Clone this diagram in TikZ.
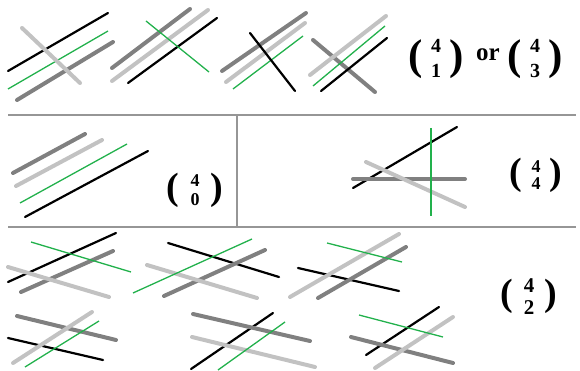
\documentclass[tikz,border=0pt]{standalone}
\usepackage{fontspec}
\setmainfont{Liberation Serif}
\definecolor{grn}{RGB}{34,177,76}
\definecolor{dgray}{RGB}{128,128,128}
\definecolor{lgray}{RGB}{194,194,194}
\definecolor{sepgray}{RGB}{150,150,150}
% #1 paren size, #2 digit size, #3 row distance, #4 gap, #5 raise, #6 top, #7 bottom
\newcommand\mybinom[7]{{\fontsize{#1}{#1}\selectfont(}\hspace{#4pt}\raisebox{#5pt}{\fontsize{#2}{#3}\selectfont\begin{tabular}[b]{@{}c@{}}#6\\#7\end{tabular}}\hspace{#4pt}{\fontsize{#1}{#1}\selectfont)}}
\begin{document}
\begin{tikzpicture}[x=1pt,y=-1pt,
  blk/.style={black,line width=2.2pt,line cap=round},
  gl/.style={grn,line width=1.3pt},
  dg/.style={dgray,line width=4pt,line cap=round},
  lg/.style={lgray,line width=4pt,line cap=round},
  sep/.style={sepgray,line width=1.4pt},
  bin/.style={inner sep=0pt,anchor=base,font=\bfseries},
  ortext/.style={inner sep=0pt,font=\fontsize{25}{25}\selectfont\bfseries}]
\useasboundingbox (0,0) rectangle (580,371);
% separators
\draw[sep] (8,115) -- (576,115);
\draw[sep] (8,227) -- (576,227);
\draw[sep] (237,115) -- (237,227);

% ---- top row ----
% panel 1
\draw[blk] (8,71) -- (108,13);
\draw[gl] (8,89) -- (108,31);
\draw[dg] (17,100) -- (113,42);
\draw[lg] (22,28) -- (80,83);
% panel 2
\draw[blk] (128,83) -- (217,18);
\draw[dg] (112,68) -- (190,9);
\draw[lg] (112,81) -- (208,10);
\draw[gl] (146,21) -- (209,72);
% panel 3
\draw[dg] (222,71) -- (306,13);
\draw[lg] (226,82) -- (305,23);
\draw[gl] (233,89) -- (303,36);
\draw[blk] (250,33) -- (295,91);
% panel 4
\draw[dg] (313,40) -- (375,92);
\draw[lg] (310,75) -- (386,16);
\draw[gl] (313,86) -- (385,26);
\draw[blk] (321,91) -- (387,38);
% binomials
\node[bin] (b1) at (436,69.1) {\mybinom{43}{20}{25}{8.3}{-8.2}{4}{1}};
\node[ortext] (or) at (488,55) {or};
\node[bin] (b3) at (535,69.1) {\mybinom{43}{20}{25}{8.3}{-8.2}{4}{3}};

% ---- middle row ----
\draw[dg] (13,173) -- (85,134);
\draw[lg] (16,186) -- (102,140);
\draw[gl] (20,203) -- (127,144);
\draw[blk] (25,217) -- (148,151);
\node[bin] (b0) at (195,199.8) {\mybinom{38}{18}{18.5}{11}{-5.5}{4}{0}};

\draw[blk] (353,188) -- (457,127);
\draw[dg] (353,179) -- (465,179);
\draw[lg] (366,162) -- (465,207);
\draw[gl] (431,128) -- (431,216);
\node[bin] (b4) at (536,184.8) {\mybinom{38}{18}{17}{9.2}{-4.8}{4}{4}};

% ---- bottom rows ----
% A
\draw[blk] (8,282) -- (116,233);
\draw[dg] (21,292) -- (113,251);
\draw[lg] (8,267) -- (109,297);
\draw[gl] (31,242) -- (131,272);
% B
\draw[blk] (168,243) -- (279,277);
\draw[dg] (164,296) -- (265,250);
\draw[lg] (147,265) -- (257,298);
\draw[gl] (133,293) -- (252,239);
% C
\draw[blk] (298,268) -- (399,291);
\draw[lg] (290,297) -- (399,234);
\draw[dg] (318,298) -- (406,247);
\draw[gl] (327,243) -- (402,262);
% D
\draw[blk] (8,338) -- (103,360);
\draw[dg] (17,316) -- (116,340);
\draw[lg] (13,363) -- (92,312);
\draw[gl] (25,367) -- (99,321);
% E
\draw[blk] (273,313) -- (191,369);
\draw[dg] (193,314) -- (310,341);
\draw[lg] (192,337) -- (315,367);
\draw[gl] (285,322) -- (218,370);
% F
\draw[blk] (439,307) -- (366,355);
\draw[dg] (351,337) -- (453,363);
\draw[lg] (453,317) -- (375,368);
\draw[gl] (359,315) -- (443,337);
% binomial
\node[bin] (b2) at (529,305.8) {\mybinom{38}{21}{22}{10.4}{-8.3}{4}{2}};
\end{tikzpicture}
\end{document}
